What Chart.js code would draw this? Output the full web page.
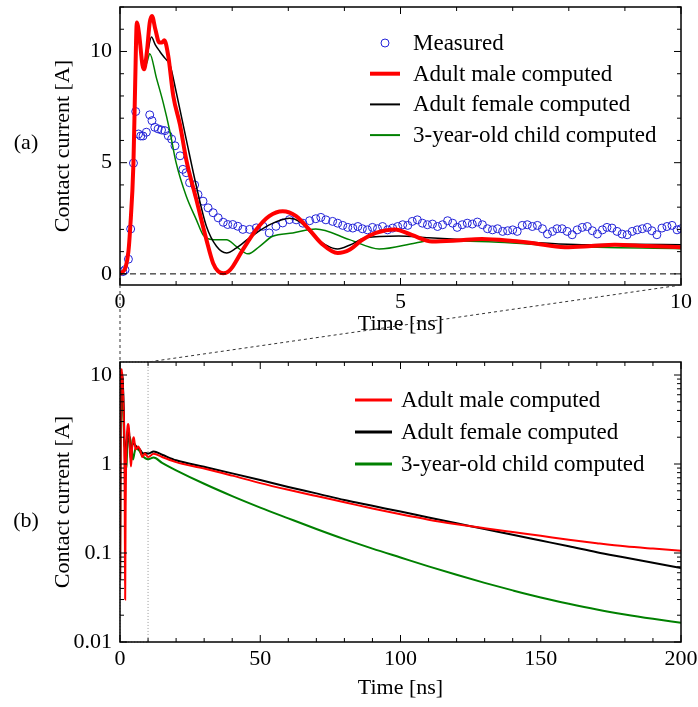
<!DOCTYPE html>
<html>
<head>
<meta charset="utf-8">
<script src="https://cdn.jsdelivr.net/npm/chart.js@4.4.1/dist/chart.umd.min.js"></script>
<style>
    html, body { margin: 0; padding: 0; background: #ffffff; }
    #wrap { position: relative; width: 698px; height: 707px; }
    #wrap canvas { position: absolute; left: 0; top: 0; }
</style>
</head>
<body>
<div id="wrap">
    <canvas id="topChart" width="698" height="707"></canvas>
    <canvas id="bottomChart" width="698" height="707"></canvas>
</div>
<script>
// (a) first 10 ns
var measuredTime = [0.05, 0.09, 0.15, 0.19, 0.24, 0.28, 0.33, 0.37, 0.41, 0.47, 0.53, 0.57, 0.62, 0.68, 0.74, 0.8, 0.86, 0.92, 0.98,
    1.07, 1.12, 1.18, 1.24, 1.33, 1.39, 1.48, 1.57, 1.66, 1.75, 1.84, 1.92, 2.01, 2.1, 2.19, 2.31, 2.43, 2.55, 2.66, 2.78, 2.9, 3.02,
    3.14, 3.26, 3.38, 3.49, 3.58, 3.67, 3.79, 3.88, 3.97, 4.06, 4.15, 4.24, 4.32, 4.41, 4.5, 4.59, 4.68, 4.77, 4.86, 4.95,
    5.04, 5.13, 5.21, 5.3, 5.39, 5.48, 5.57, 5.66, 5.75, 5.84, 5.93, 6.01, 6.1, 6.19, 6.28, 6.37, 6.46,
    6.55, 6.64, 6.73, 6.82, 6.91, 7.0, 7.08, 7.17, 7.26, 7.35, 7.44, 7.53, 7.62, 7.71, 7.79, 7.88, 7.97,
    8.06, 8.15, 8.24, 8.33, 8.42, 8.51, 8.6, 8.68, 8.77, 8.86, 8.95, 9.04, 9.13, 9.22, 9.31, 9.4, 9.48, 9.57, 9.66, 9.75, 9.84, 9.93, 10.0];
var measuredCurrent = [0.1, 0.18, 0.66, 2.02, 4.98, 7.3, 6.29, 6.2, 6.2, 6.37, 7.15, 6.89, 6.59, 6.52, 6.47, 6.44, 6.21, 6.06, 5.76,
    5.31, 4.7, 4.55, 4.1, 4.0, 3.57, 3.27, 2.97, 2.75, 2.52, 2.32, 2.22, 2.22, 2.14, 2.0, 2.0, 2.07, 2.14, 1.84, 2.14, 2.29, 2.44,
    2.43, 2.28, 2.39, 2.48, 2.54, 2.43, 2.36, 2.28, 2.18, 2.09, 2.06, 2.13, 2.03, 1.98, 2.09, 2.03, 2.13, 1.98, 2.06, 2.13,
    2.21, 2.18, 2.36, 2.43, 2.28, 2.21, 2.24, 2.13, 2.21, 2.39, 2.28, 2.09, 2.21, 2.28, 2.24, 2.33, 2.21,
    2.03, 1.98, 2.03, 1.91, 1.94, 1.98, 1.91, 2.18, 2.21, 2.13, 2.18, 2.03, 1.79, 1.91, 2.03, 2.03, 1.91,
    1.76, 1.98, 2.09, 2.13, 1.94, 1.79, 1.98, 2.09, 2.06, 1.91, 1.79, 1.76, 1.91, 1.98, 2.03, 2.09, 1.94, 1.76, 2.06, 2.13, 2.18, 1.98, 2.03];

var maleTime = [0, 0.03, 0.1, 0.15, 0.18, 0.24, 0.27, 0.3, 0.34, 0.4, 0.43, 0.48, 0.53, 0.57, 0.63, 0.7, 0.75, 0.79, 0.86, 0.95,
    1.07, 1.18, 1.36, 1.54, 1.66, 1.75, 1.84, 1.93, 2.01, 2.19, 2.43, 2.66, 2.9, 3.14, 3.37, 3.6, 3.88, 4.1, 4.3, 4.56, 4.9,
    5.2, 5.56, 6.0, 6.45, 7.0, 7.34, 7.93, 8.4, 8.82, 9.4, 10];
var maleCurrent = [0, 0.05, 0.3, 1.0, 2.0, 5.0, 8.5, 11.3, 10.8, 9.4, 9.2, 10.0, 11.3, 11.6, 11.0, 10.4, 10.4, 10.5, 9.8, 8.0,
    6.7, 5.15, 3.35, 1.54, 0.48, 0.12, 0.03, 0.1, 0.33, 1.09, 2.0, 2.6, 2.82, 2.6, 2.0, 1.35, 0.94, 1.1, 1.5, 1.84, 2.0,
    1.75, 1.46, 1.5, 1.57, 1.48, 1.39, 1.2, 1.25, 1.31, 1.25, 1.2];

var femaleTime = [0, 0.03, 0.1, 0.15, 0.18, 0.24, 0.27, 0.3, 0.34, 0.4, 0.43, 0.49, 0.56, 0.63, 0.71, 0.8, 0.89, 1.0,
    1.18, 1.36, 1.54, 1.72, 1.9, 2.07, 2.31, 2.66, 3.02, 3.2, 3.5, 3.88, 4.1, 4.38, 4.97, 5.5, 6.16, 6.7, 7.34, 8.23, 9.0, 10];
var femaleCurrent = [0, 0.05, 0.3, 1.0, 2.0, 5.0, 8.5, 11.3, 10.6, 9.4, 9.2, 9.9, 10.65, 10.3, 10.0, 9.7, 9.4, 8.2,
    6.06, 3.95, 2.14, 1.24, 0.94, 1.16, 1.62, 2.2, 2.5, 2.35, 1.6, 1.12, 1.3, 1.62, 1.7, 1.62, 1.54, 1.5, 1.42, 1.31, 1.33, 1.31];

var childTime = [0, 0.03, 0.1, 0.15, 0.18, 0.24, 0.27, 0.3, 0.35, 0.43, 0.48, 0.53, 0.65, 0.77, 0.89, 1.0, 1.18, 1.36, 1.48,
    1.66, 1.9, 2.07, 2.28, 2.49, 2.72, 3.08, 3.49, 4.09, 4.62, 5.27, 5.56, 6.75, 7.93, 10];
var childCurrent = [0, 0.05, 0.3, 1.0, 2.0, 5.0, 8.5, 11.1, 10.3, 9.25, 9.5, 9.9, 8.8, 7.7, 6.4, 5.0, 3.5, 2.44, 1.76,
    1.54, 1.54, 1.24, 0.9, 1.24, 1.69, 1.84, 2.02, 1.54, 1.12, 1.39, 1.5, 1.42, 1.24, 1.13];

// (b) continuation up to 200 ns
var tailTime = [12, 15, 20, 30, 40, 50, 60, 70, 80, 90, 100, 110, 120, 130, 140, 150, 160, 170, 180, 190, 200];
var maleTail = [1.3, 1.2, 1.05, 0.89, 0.74, 0.61, 0.513, 0.436, 0.372, 0.316, 0.272, 0.237, 0.211, 0.19, 0.172, 0.156, 0.141, 0.129, 0.119, 0.112, 0.106];
var femaleTail = [1.38, 1.27, 1.1, 0.93, 0.785, 0.66, 0.552, 0.468, 0.394, 0.339, 0.292, 0.251, 0.216, 0.186, 0.16, 0.138, 0.119, 0.102, 0.089, 0.0776, 0.0676];
var childTail = [1.18, 1.03, 0.85, 0.6, 0.436, 0.324, 0.245, 0.186, 0.143, 0.112, 0.089, 0.0708, 0.0569, 0.0462, 0.038, 0.0316, 0.0269, 0.0232, 0.0204, 0.0182, 0.0164];

var labels = ["Measured", "Adult male computed", "Adult female computed", "3-year-old child computed"];
var topCurrentTicks = [0, 1, 2, 3, 4, 5, 6, 7, 8, 9, 10, 11, 12];

var serif = "'Liberation Serif', 'Times New Roman', serif";

function toPoints(xs, ys) {
    return xs.map(function (x, i) { return { x: x, y: ys[i] }; });
}

function decadeLabel(v) {
    var e = Math.round(Math.log10(v));
    if (Math.abs(Math.log10(v) - e) > 1e-6) return '';
    return e >= 0 ? String(Math.pow(10, e)) : Math.pow(10, e).toFixed(-e);
}

function isNiceTick(scale, v) {
    if (scale.type === 'logarithmic') {
        var m = v / Math.pow(10, Math.floor(Math.log10(v) + 1e-9));
        return Math.abs(m - Math.round(m)) < 1e-6;
    }
    return Math.abs(v - Math.round(v)) < 1e-6;
}

// box frame, inward ticks on all four sides, zero line and the panel letter
var frameTicks = {
    id: 'frameTicks',
    afterDatasetsDraw(chart, args, opts) {
        const ctx = chart.ctx;
        const a = chart.chartArea;
        ctx.save();
        if (opts.zeroLine) {
            const y0 = chart.scales.y.getPixelForValue(0);
            ctx.strokeStyle = '#000';
            ctx.lineWidth = 1;
            ctx.setLineDash([6, 4]);
            ctx.beginPath();
            ctx.moveTo(a.left, y0);
            ctx.lineTo(a.right, y0);
            ctx.stroke();
            ctx.setLineDash([]);
        }
        ctx.strokeStyle = '#000';
        ctx.lineWidth = 1;
        ['x', 'y'].forEach(function (id) {
            const s = chart.scales[id];
            s.ticks.forEach(function (t) {
                if (!isNiceTick(s, t.value)) return;
                const len = t.label ? 7 : 4;
                const p = s.getPixelForValue(t.value);
                ctx.beginPath();
                if (id === 'x') {
                    ctx.moveTo(p, a.bottom); ctx.lineTo(p, a.bottom - len);
                    ctx.moveTo(p, a.top); ctx.lineTo(p, a.top + len);
                } else {
                    ctx.moveTo(a.left, p); ctx.lineTo(a.left + len, p);
                    ctx.moveTo(a.right, p); ctx.lineTo(a.right - len, p);
                }
                ctx.stroke();
            });
        });
        ctx.lineWidth = 1.5;
        ctx.strokeRect(a.left, a.top, a.right - a.left, a.bottom - a.top);
        ctx.fillStyle = '#000';
        ctx.font = '22px ' + serif;
        ctx.textAlign = 'center';
        ctx.textBaseline = 'middle';
        ctx.fillText(opts.panel, opts.panelX, a.top + opts.panelY * (a.bottom - a.top));
        ctx.restore();
    }
};

// legend drawn inside the plot area
var insideLegend = {
    id: 'insideLegend',
    afterDraw(chart, args, opts) {
        const ctx = chart.ctx;
        const a = chart.chartArea;
        ctx.save();
        ctx.font = opts.size + 'px ' + serif;
        ctx.textBaseline = 'middle';
        ctx.textAlign = 'left';
        opts.order.forEach(function (di, row) {
            const ds = chart.data.datasets[di];
            const x0 = a.left + opts.x;
            const y = a.top + opts.y + row * opts.spacing;
            if (ds.showLine === false) {
                ctx.strokeStyle = ds.pointBorderColor;
                ctx.lineWidth = 1;
                ctx.beginPath();
                ctx.arc(x0 + opts.lineLen / 2, y, 4, 0, Math.PI * 2);
                ctx.stroke();
            } else {
                ctx.strokeStyle = ds.borderColor;
                ctx.lineWidth = opts.lineWidths[row];
                ctx.beginPath();
                ctx.moveTo(x0, y);
                ctx.lineTo(x0 + opts.lineLen, y);
                ctx.stroke();
            }
            ctx.fillStyle = '#000';
            ctx.fillText(ds.label, x0 + opts.lineLen + opts.gap, y + 1);
        });
        ctx.restore();
    }
};

function lineSet(label, points, color, width, order) {
    return {
        label: label,
        data: points,
        showLine: true,
        borderColor: color,
        backgroundColor: color,
        borderWidth: width,
        pointRadius: 0,
        cubicInterpolationMode: 'monotone',
        order: order
    };
}

function fontOf(size) {
    return { family: serif, size: size };
}

var topChart = new Chart(document.getElementById('topChart'), {
    type: 'scatter',
    data: {
        datasets: [
            {
                label: labels[0],
                data: toPoints(measuredTime, measuredCurrent),
                showLine: false,
                pointRadius: 4,
                pointStyle: 'circle',
                pointBorderColor: '#2323d8',
                pointBackgroundColor: 'rgba(0,0,0,0)',
                pointBorderWidth: 1,
                order: 4
            },
            lineSet(labels[1], toPoints(maleTime, maleCurrent), '#ff0000', 4, 1),
            lineSet(labels[2], toPoints(femaleTime, femaleCurrent), '#000000', 1.5, 2),
            lineSet(labels[3], toPoints(childTime, childCurrent), '#008000', 1.5, 3)
        ]
    },
    options: {
        responsive: false,
        devicePixelRatio: 1,
        animation: false,
        events: [],
        layout: { padding: { left: 50, top: 7, right: 17, bottom: 370 } },
        plugins: {
            legend: { display: false },
            tooltip: { enabled: false },
            frameTicks: { zeroLine: true, panel: '(a)', panelX: 26, panelY: 0.49 },
            insideLegend: { order: [0, 1, 2, 3], x: 250, y: 36, spacing: 30.7, lineLen: 30, gap: 13, size: 23, lineWidths: [1, 4, 2, 2] }
        },
        scales: {
            x: {
                type: 'linear', min: 0, max: 10,
                grid: { display: false, drawTicks: false },
                border: { display: false },
                ticks: {
                    stepSize: 1, autoSkip: false, maxRotation: 0, padding: 4, color: '#000', font: fontOf(22),
                    callback: function (v) { return v % 5 === 0 ? String(v) : ''; }
                },
                title: { display: true, text: 'Time [ns]', color: '#000', font: fontOf(22), padding: 0 },
                afterFit: function (s) { s.height = 52; s.paddingLeft = 0; s.paddingRight = 0; }
            },
            y: {
                type: 'linear', min: -0.5, max: 12,
                grid: { display: false, drawTicks: false },
                border: { display: false },
                afterBuildTicks: function (s) {
                    s.ticks = topCurrentTicks.map(function (v) { return { value: v }; });
                },
                ticks: {
                    autoSkip: false, padding: 8, color: '#000', font: fontOf(22),
                    callback: function (v) { return v % 5 === 0 ? String(v) : ''; }
                },
                title: { display: true, text: 'Contact current [A]', color: '#000', font: fontOf(22), padding: 0 },
                afterFit: function (s) { s.width = 70; s.paddingTop = 0; s.paddingBottom = 0; }
            }
        }
    },
    plugins: [frameTicks, insideLegend]
});

// dashed lines from panel (a) down to the zoomed range of panel (b)
var zoomLinks = {
    id: 'zoomLinks',
    beforeDatasetsDraw(chart) {
        const ctx = chart.ctx;
        const a = chart.chartArea;
        const bx = chart.scales.x;
        ctx.save();
        ctx.strokeStyle = '#9a9a9a';
        ctx.lineWidth = 1;
        ctx.setLineDash([1, 2]);
        ctx.strokeRect(bx.getPixelForValue(0), a.top, bx.getPixelForValue(10) - bx.getPixelForValue(0), a.bottom - a.top);
        ctx.restore();
    },
    afterDraw(chart) {
        const ctx = chart.ctx;
        const ta = topChart.chartArea;
        const tx = topChart.scales.x;
        const bx = chart.scales.x;
        const ba = chart.chartArea;
        ctx.save();
        ctx.strokeStyle = '#333';
        ctx.lineWidth = 1;
        ctx.setLineDash([3, 3]);
        ctx.beginPath();
        ctx.moveTo(tx.getPixelForValue(0), ta.bottom);
        ctx.lineTo(bx.getPixelForValue(0), ba.top);
        ctx.moveTo(tx.getPixelForValue(10), ta.bottom);
        ctx.lineTo(bx.getPixelForValue(10), ba.top);
        ctx.stroke();
        ctx.restore();
    }
};

var bottomChart = new Chart(document.getElementById('bottomChart'), {
    type: 'scatter',
    data: {
        datasets: [
            lineSet(labels[1], toPoints(maleTime.concat(tailTime), maleCurrent.concat(maleTail)), '#ff0000', 2, 1),
            lineSet(labels[2], toPoints(femaleTime.concat(tailTime), femaleCurrent.concat(femaleTail)), '#000000', 2, 2),
            lineSet(labels[3], toPoints(childTime.concat(tailTime), childCurrent.concat(childTail)), '#008000', 2, 3)
        ]
    },
    options: {
        responsive: false,
        devicePixelRatio: 1,
        animation: false,
        events: [],
        layout: { padding: { left: 50, top: 362, right: 17, bottom: 6 } },
        plugins: {
            legend: { display: false },
            tooltip: { enabled: false },
            frameTicks: { zeroLine: false, panel: '(b)', panelX: 26, panelY: 0.57 },
            insideLegend: { order: [0, 1, 2], x: 235, y: 38, spacing: 32, lineLen: 37, gap: 9, size: 23, lineWidths: [3, 3, 3] }
        },
        scales: {
            x: {
                type: 'linear', min: 0, max: 200,
                grid: { display: false, drawTicks: false },
                border: { display: false },
                ticks: {
                    stepSize: 10, autoSkip: false, maxRotation: 0, padding: 4, color: '#000', font: fontOf(22),
                    callback: function (v) { return v % 50 === 0 ? String(v) : ''; }
                },
                title: { display: true, text: 'Time [ns]', color: '#000', font: fontOf(22), padding: 0 },
                afterFit: function (s) { s.height = 59; s.paddingLeft = 0; s.paddingRight = 0; }
            },
            y: {
                type: 'logarithmic', min: 0.01, max: 14,
                grid: { display: false, drawTicks: false },
                border: { display: false },
                ticks: {
                    autoSkip: false, padding: 8, color: '#000', font: fontOf(22),
                    callback: function (v) { return decadeLabel(v); }
                },
                title: { display: true, text: 'Contact current [A]', color: '#000', font: fontOf(22), padding: 0 },
                afterFit: function (s) { s.width = 70; s.paddingTop = 0; s.paddingBottom = 0; }
            }
        }
    },
    plugins: [zoomLinks, frameTicks, insideLegend]
});
</script>
</body>
</html>
